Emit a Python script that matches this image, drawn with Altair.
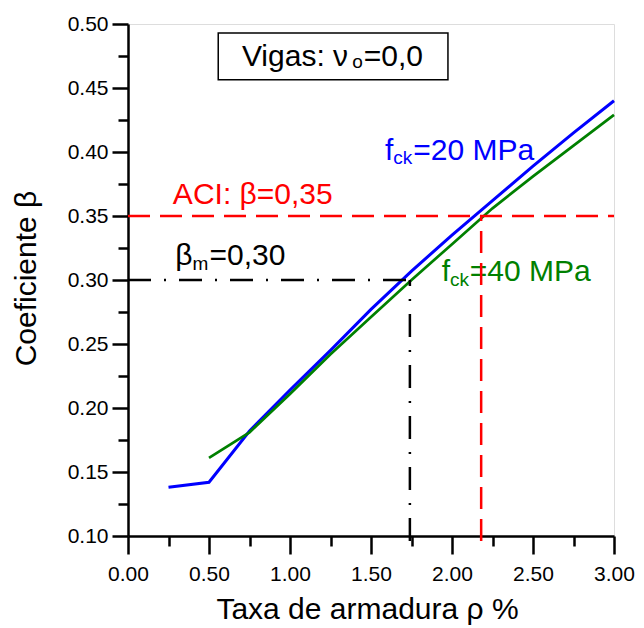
import altair as alt
import pandas as pd

# ---- data ----
rho_20 = [0.25, 0.5, 0.75, 1.0, 1.25, 1.5, 1.75, 2.0, 2.25, 2.5, 2.75, 3.0]
beta_20 = [0.138, 0.142, 0.182, 0.214, 0.245, 0.277, 0.307, 0.335, 0.362, 0.389, 0.415, 0.440]
rho_40 = [0.5, 0.75, 1.0, 1.25, 1.5, 1.75, 2.0, 2.25, 2.5, 2.75, 3.0]
beta_40 = [0.161, 0.181, 0.211, 0.242, 0.271, 0.300, 0.328, 0.356, 0.381, 0.405, 0.429]

x_major = [0.0, 0.5, 1.0, 1.5, 2.0, 2.5, 3.0]
x_minor = [0.25, 0.75, 1.25, 1.75, 2.25, 2.75]
y_major = [0.10, 0.15, 0.20, 0.25, 0.30, 0.35, 0.40, 0.45, 0.50]
y_minor = [0.125, 0.175, 0.225, 0.275, 0.325, 0.375, 0.425, 0.475]

# reference lines: (x, x2, y, y2)
red_x = [0.0, 2.18]
red_x2 = [3.0, 2.18]
red_y = [0.35, 0.096]
red_y2 = [0.35, 0.35]
blk_x = [0.0, 1.74]
blk_x2 = [1.74, 1.74]
blk_y = [0.30, 0.096]
blk_y2 = [0.30, 0.30]

# annotation pieces (text, x, y, font size, colour)
ann_text = ["Vigas: \u03bd", "o", "=0,0",
            "f", "ck", "=20 MPa",
            "f", "ck", "=40 MPa",
            "ACI: \u03b2=0,35",
            "\u03b2", "m", "=0,30"]
ann_x = [0.703, 1.385, 1.455,
         1.586, 1.637, 1.761,
         1.936, 1.987, 2.110,
         0.277,
         0.292, 0.398, 0.503]
ann_y = [0.4674, 0.4655, 0.4674,
         0.394, 0.3905, 0.394,
         0.2989, 0.2955, 0.2989,
         0.3592,
         0.312, 0.3077, 0.312]
ann_size = [30, 19, 30,
            30, 19, 30,
            30, 19, 30,
            30,
            30, 19, 30]
ann_color = ["black", "black", "black",
             "#0000ff", "#0000ff", "#0000ff",
             "#008000", "#008000", "#008000",
             "#ff0000",
             "black", "black", "black"]

box_x = [0.557]
box_x2 = [1.975]
box_y = [0.4565]
box_y2 = [0.493]

FONT = "Liberation Sans"

df20 = pd.DataFrame({"rho": rho_20, "beta": beta_20})
df40 = pd.DataFrame({"rho": rho_40, "beta": beta_40})
df_red = pd.DataFrame({"x": red_x, "x2": red_x2, "y": red_y, "y2": red_y2})
df_blk = pd.DataFrame({"x": blk_x, "x2": blk_x2, "y": blk_y, "y2": blk_y2})
df_ann = pd.DataFrame({"t": ann_text, "x": ann_x, "y": ann_y, "s": ann_size, "c": ann_color})
df_box = pd.DataFrame({"x": box_x, "x2": box_x2, "y": box_y, "y2": box_y2})

xs = alt.Scale(domain=[0, 3], nice=False, zero=False)
ys = alt.Scale(domain=[0.1, 0.5], nice=False, zero=False)

common_axis = dict(grid=False, domainColor="black", tickColor="black", labelColor="black",
                   domainWidth=2.5, tickWidth=2.5, labelFont=FONT, labelFontSize=21,
                   titleFont=FONT, titleFontSize=30, titleFontWeight="normal",
                   titleColor="black", labelFlush=False, labelOverlap=False, labelBound=False)

x_axis_major = alt.Axis(values=x_major, format=".2f", tickSize=18, labelPadding=9,
                        title="Taxa de armadura \u03c1 %", titleX=239, titleY=82,
                        titleBaseline="alphabetic", titleAlign="center",
                        orient="bottom", **common_axis)
y_axis_major = alt.Axis(values=y_major, format=".2f", tickSize=16, labelPadding=4,
                        title="Coeficiente \u03b2", titleX=-93, titleY=254, titleAngle=-90,
                        titleBaseline="alphabetic", titleAlign="center",
                        orient="left", **common_axis)
x_axis_minor = alt.Axis(values=x_minor, labels=False, domain=False, tickSize=10, tickWidth=2.5,
                        tickColor="black", grid=False, title=None, orient="bottom")
y_axis_minor = alt.Axis(values=y_minor, labels=False, domain=False, tickSize=10, tickWidth=2.5,
                        tickColor="black", grid=False, title=None, orient="left")

line20 = alt.Chart(df20).mark_line(color="#0000ff", strokeWidth=3).encode(
    x=alt.X("rho:Q", scale=xs, axis=x_axis_major),
    y=alt.Y("beta:Q", scale=ys, axis=y_axis_major),
)
line40 = alt.Chart(df40).mark_line(color="#008000", strokeWidth=2.7).encode(
    x=alt.X("rho:Q", scale=xs, axis=None),
    y=alt.Y("beta:Q", scale=ys, axis=None),
)
minor = alt.Chart(df40).mark_point(opacity=0).encode(
    x=alt.X("rho:Q", scale=xs, axis=x_axis_minor),
    y=alt.Y("beta:Q", scale=ys, axis=y_axis_minor),
)
box = alt.Chart(df_box).mark_rect(fill="white", stroke="black", strokeWidth=1.5).encode(
    x=alt.X("x:Q", scale=xs, axis=None), x2="x2:Q",
    y=alt.Y("y:Q", scale=ys, axis=None), y2="y2:Q",
)
texts = alt.Chart(df_ann).mark_text(align="left", baseline="alphabetic", font=FONT).encode(
    x=alt.X("x:Q", scale=xs, axis=None),
    y=alt.Y("y:Q", scale=ys, axis=None),
    text="t:N",
    size=alt.Size("s:Q", scale=None, legend=None),
    color=alt.Color("c:N", scale=None, legend=None),
)
red = alt.Chart(df_red).mark_rule(color="#ff0000", strokeWidth=2.5, strokeDash=[22, 10]).encode(
    x=alt.X("x:Q", scale=xs, axis=None), x2="x2:Q",
    y=alt.Y("y:Q", scale=ys, axis=None), y2="y2:Q",
)
blk = alt.Chart(df_blk).mark_rule(color="black", strokeWidth=2.5, strokeDash=[23, 13, 2, 13]).encode(
    x=alt.X("x:Q", scale=xs, axis=None), x2="x2:Q",
    y=alt.Y("y:Q", scale=ys, axis=None), y2="y2:Q",
)

chart = alt.layer(line20, minor, box, line40, texts, red, blk).resolve_axis(
    x="independent", y="independent"
).properties(
    width=486, height=512,
    autosize=alt.AutoSizeParams(type="none"),
    padding={"left": 128, "top": 24, "right": 30, "bottom": 92},
).configure_view(stroke=None).configure(background="white")

chart.save("out.html", embed_options={"renderer": "svg", "actions": False})
